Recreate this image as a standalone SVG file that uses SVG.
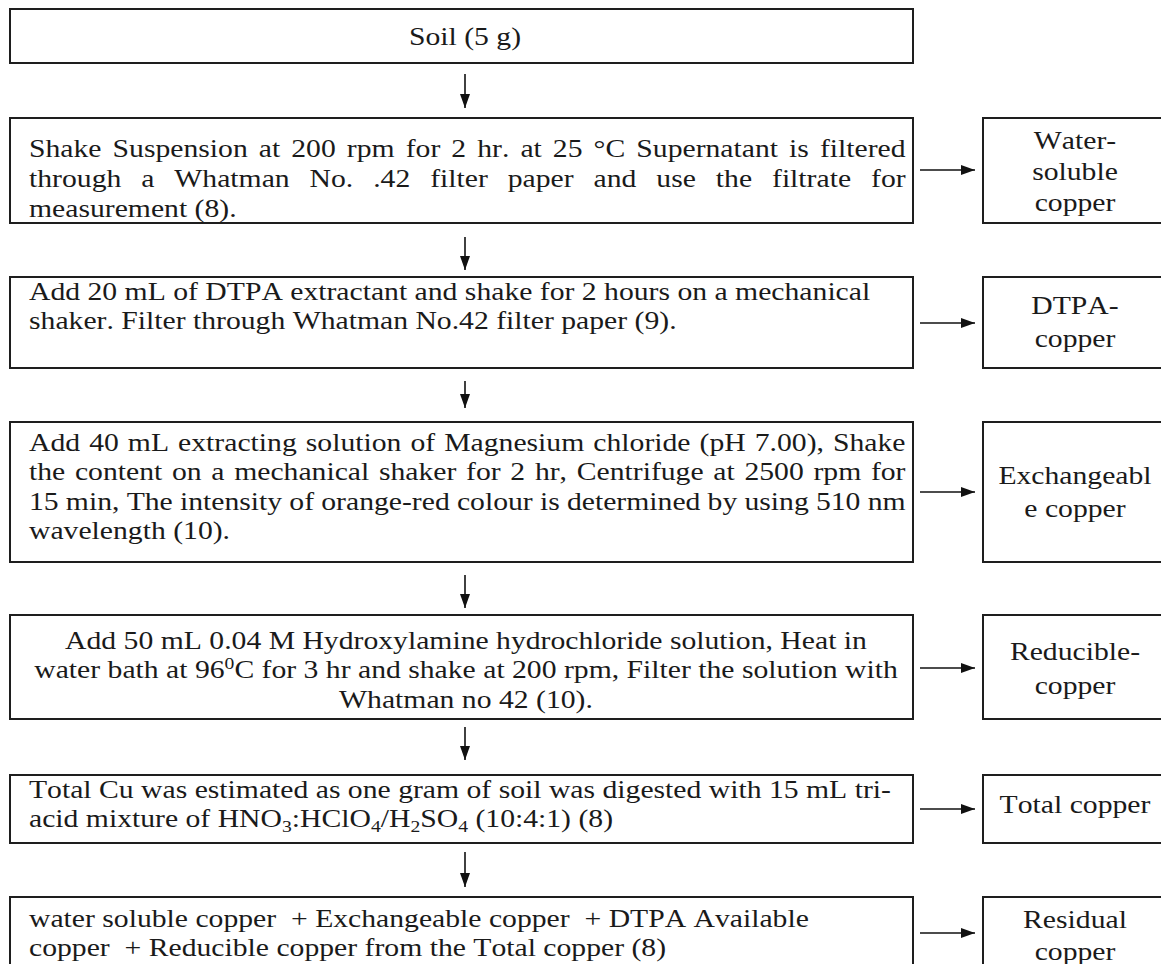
<svg xmlns="http://www.w3.org/2000/svg" width="1161" height="964" viewBox="0 0 1161 964">
<defs>
<style>
.box{fill:#fff;stroke:#1e1e1e;stroke-width:2}
.t{font-family:"Liberation Serif","Times New Roman",Times,serif;font-size:25.7px;fill:#1a1a1a;font-kerning:none}
.m{text-anchor:middle}
.c{stroke:#111;stroke-width:1.6;fill:none}
.sb{font-size:17px}
</style>
<marker id="ah" viewBox="0 0 14 10" refX="14" refY="5" markerWidth="14" markerHeight="10" orient="auto" markerUnits="userSpaceOnUse"><path d="M0,0L14,5L0,10z" fill="#111"/></marker>
</defs>
<rect width="1161" height="964" fill="#fff"/>

<g id="soil">
<rect class="box" x="10" y="9" width="903" height="54"/>
<g transform="scale(1.155,1)"><text class="t m" x="402.6" y="45">Soil (5 g)</text></g>
</g>

<g id="step1">
<rect class="box" x="10" y="118" width="903" height="105"/>
<g transform="scale(1.155,1)">
<text class="t" x="25.11" y="157" style="word-spacing:3.15px">Shake Suspension at 200 rpm for 2 hr. at 25 °C Supernatant is filtered</text>
<text class="t" x="25.11" y="187" style="word-spacing:10.83px">through a Whatman No. .42 filter paper and use the filtrate for</text>
<text class="t" x="25.11" y="217">measurement (8).</text>
</g>
</g>
<g id="water">
<rect class="box" x="983" y="118" width="200" height="105"/>
<g transform="scale(1.155,1)">
<text class="t m" x="930.74" y="149">Water-</text>
<text class="t m" x="930.74" y="180">soluble</text>
<text class="t m" x="930.74" y="211">copper</text>
</g>
</g>

<g id="step2">
<rect class="box" x="10" y="277" width="903" height="91"/>
<g transform="scale(1.155,1)">
<text class="t" x="25.11" y="300">Add 20 mL of DTPA extractant and shake for 2 hours on a mechanical</text>
<text class="t" x="25.11" y="329">shaker. Filter through Whatman No.42 filter paper (9).</text>
</g>
</g>
<g id="dtpa">
<rect class="box" x="983" y="277" width="200" height="91"/>
<g transform="scale(1.155,1)">
<text class="t m" x="930.74" y="314">DTPA-</text>
<text class="t m" x="930.74" y="347">copper</text>
</g>
</g>

<g id="step3">
<rect class="box" x="10" y="422" width="903" height="140"/>
<g transform="scale(1.155,1)">
<text class="t" x="25.11" y="451" style="word-spacing:1.41px">Add 40 mL extracting solution of Magnesium chloride (pH 7.00), Shake</text>
<text class="t" x="25.11" y="480.5" style="word-spacing:1.97px">the content on a mechanical shaker for 2 hr, Centrifuge at 2500 rpm for</text>
<text class="t" x="25.11" y="510" style="word-spacing:-0.19px">15 min, The intensity of orange-red colour is determined by using 510 nm</text>
<text class="t" x="25.11" y="539.5">wavelength (10).</text>
</g>
</g>
<g id="exch">
<rect class="box" x="983" y="422" width="200" height="140"/>
<g transform="scale(1.155,1)">
<text class="t m" x="930.74" y="484">Exchangeabl</text>
<text class="t m" x="930.74" y="517">e copper</text>
</g>
</g>

<g id="step4">
<rect class="box" x="10" y="615" width="903" height="104"/>
<g transform="scale(1.155,1)">
<text class="t m" x="403.46" y="649">Add 50 mL 0.04 M Hydroxylamine hydrochloride solution, Heat in</text>
<text class="t m" x="403.46" y="678.5">water bath at 96<tspan class="sb" dy="-9">0</tspan><tspan dy="9">C for 3 hr and shake at 200 rpm, Filter the solution with</tspan></text>
<text class="t m" x="403.46" y="708">Whatman no 42 (10).</text>
</g>
</g>
<g id="reduc">
<rect class="box" x="983" y="615" width="200" height="104"/>
<g transform="scale(1.155,1)">
<text class="t m" x="930.74" y="660">Reducible-</text>
<text class="t m" x="930.74" y="694">copper</text>
</g>
</g>

<g id="step5">
<rect class="box" x="10" y="775" width="903" height="68"/>
<g transform="scale(1.155,1)">
<text class="t" x="25.11" y="798">Total Cu was estimated as one gram of soil was digested with 15 mL tri-</text>
<text class="t" x="25.11" y="827">acid mixture of HNO<tspan class="sb" dy="5">3</tspan><tspan dy="-5">:HClO</tspan><tspan class="sb" dy="5">4</tspan><tspan dy="-5">/H</tspan><tspan class="sb" dy="5">2</tspan><tspan dy="-5">SO</tspan><tspan class="sb" dy="5">4</tspan><tspan dy="-5"> (10:4:1) (8)</tspan></text>
</g>
</g>
<g id="total">
<rect class="box" x="983" y="775" width="200" height="68"/>
<g transform="scale(1.155,1)">
<text class="t m" x="930.74" y="813">Total copper</text>
</g>
</g>

<g id="step6">
<rect class="box" x="10" y="897" width="903" height="90"/>
<g transform="scale(1.155,1)">
<text class="t" x="25.11" y="927" xml:space="preserve">water soluble copper  + Exchangeable copper  + DTPA Available</text>
<text class="t" x="25.11" y="956.5" xml:space="preserve">copper  + Reducible copper from the Total copper (8)</text>
</g>
</g>
<g id="residual">
<rect class="box" x="983" y="897" width="200" height="90"/>
<g transform="scale(1.155,1)">
<text class="t m" x="930.74" y="928">Residual</text>
<text class="t m" x="930.74" y="960">copper</text>
</g>
</g>

<g id="connectors">
<path class="c" d="M465,74V108" marker-end="url(#ah)"/>
<path class="c" d="M465,237V270" marker-end="url(#ah)"/>
<path class="c" d="M465,381V408" marker-end="url(#ah)"/>
<path class="c" d="M465,575V608" marker-end="url(#ah)"/>
<path class="c" d="M465,727V760" marker-end="url(#ah)"/>
<path class="c" d="M465,852V887" marker-end="url(#ah)"/>
<path class="c" d="M920,170H975" marker-end="url(#ah)"/>
<path class="c" d="M920,323H975" marker-end="url(#ah)"/>
<path class="c" d="M920,492H975" marker-end="url(#ah)"/>
<path class="c" d="M920,668H975" marker-end="url(#ah)"/>
<path class="c" d="M920,809H975" marker-end="url(#ah)"/>
<path class="c" d="M920,933H975" marker-end="url(#ah)"/>
</g>
</svg>
